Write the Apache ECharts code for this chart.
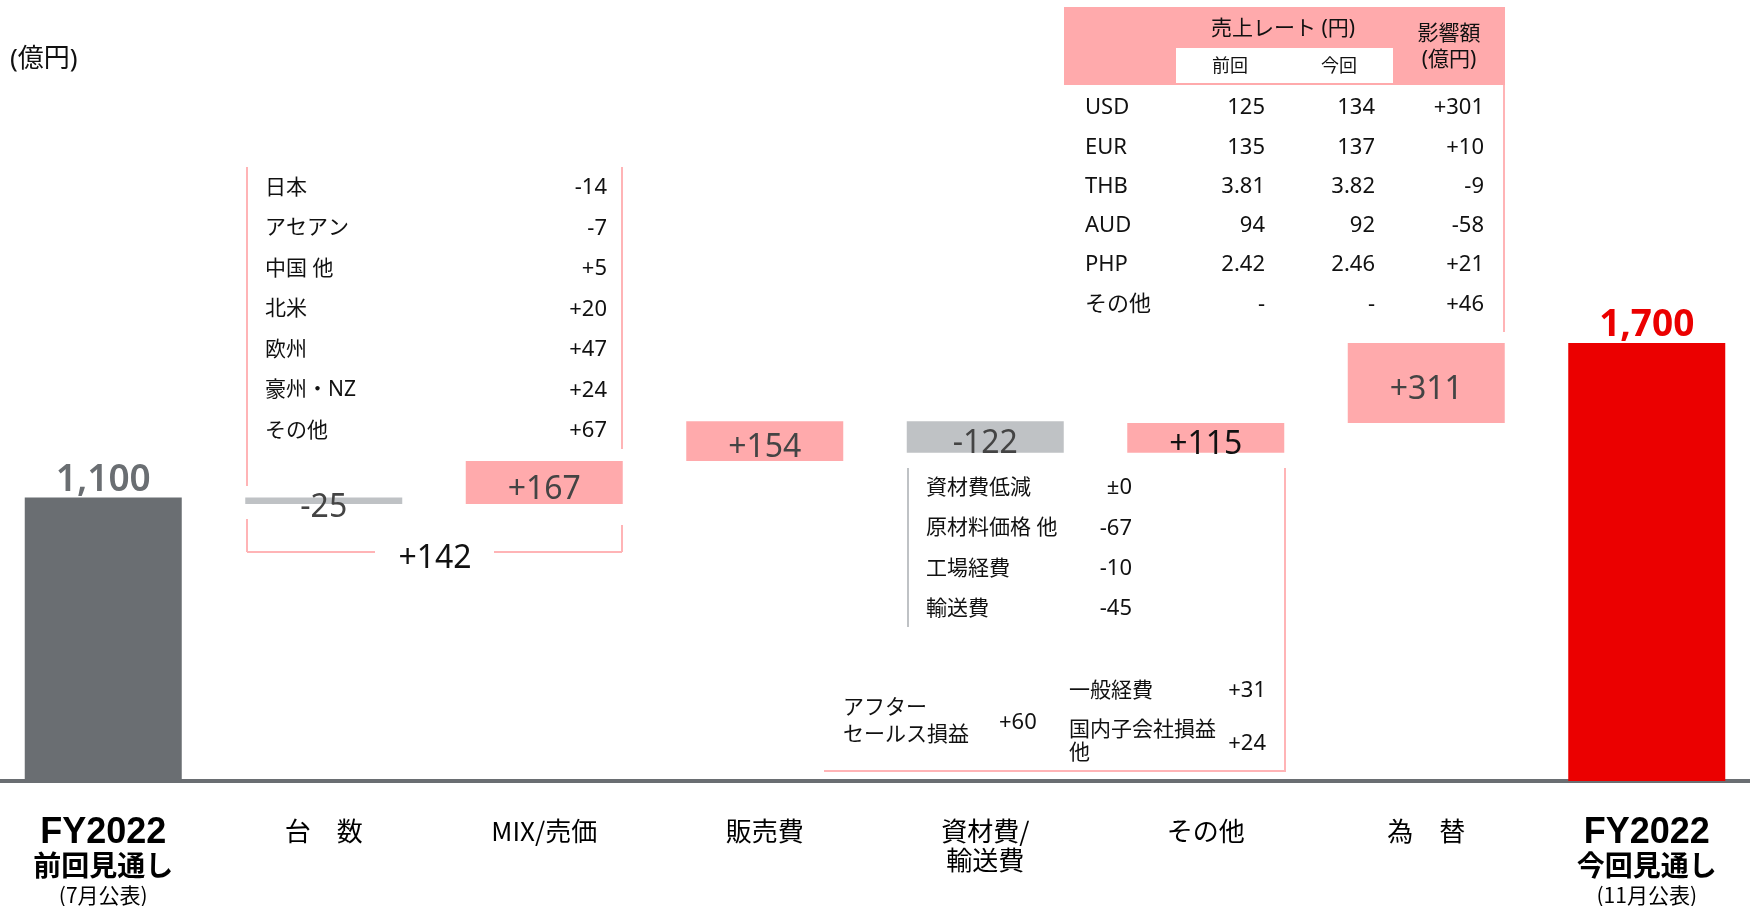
<!DOCTYPE html>
<html>
<head>
<meta charset="utf-8">
<script src="https://cdn.jsdelivr.net/npm/echarts@6/dist/echarts.min.js"></script>
<style>
  html, body { margin: 0; padding: 0; background: #fff; overflow: hidden; }
  /* chart is 14px wider than the page so that the 8 bands line up with the source */
  #chart { width: 1764px; height: 906px; margin-left: -7px; }
</style>
</head>
<body>
<div id="chart"></div>
<script>
// waterfall data (億円)
const categories = ['FY2022\n前回見通し\n(7月公表)', '台　数', 'MIX/売価', '販売費', '資材費/\n輸送費', 'その他', '為　替', 'FY2022\n今回見通し\n(11月公表)'];
const changes = [1100, -25, 167, 154, -122, 115, 311, 1700];
const isTotal = [true, false, false, false, false, false, false, true];

// annotation tables
const regionNames = ['日本', 'アセアン', '中国 他', '北米', '欧州', '豪州・NZ', 'その他'];
const regionValues = ['-14', '-7', '+5', '+20', '+47', '+24', '+67'];
const volumeMixSum = '+142';
const fxCurrencies = ['USD', 'EUR', 'THB', 'AUD', 'PHP', 'その他'];
const fxPrev = ['125', '135', '3.81', '94', '2.42', '-'];
const fxCurr = ['134', '137', '3.82', '92', '2.46', '-'];
const fxImpact = ['+301', '+10', '-9', '-58', '+21', '+46'];
const costNames = ['資材費低減', '原材料価格 他', '工場経費', '輸送費'];
const costValues = ['±0', '-67', '-10', '-45'];
const otherNames = ['一般経費', '国内子会社損益\n他'];
const otherValues = ['+31', '+24'];
const afterSalesValue = '+60';

const PINK = '#ffaaac';
const PINK_LINE = '#ffb4b6';
const LIGHT_GRAY = '#bfc2c5';
const GRAY = '#6a6e72';
const RED = '#eb0000';
const JP = '"Noto Sans", "Noto Sans CJK JP", sans-serif';
const DX = 7; // page x -> chart x

// build the stacked waterfall from the changes
const baseData = [];
const barData = [];
let run = 0;
changes.forEach((d, i) => {
  let color, h;
  if (isTotal[i]) {
    baseData.push(0); h = d; run = d;
    color = i === 0 ? GRAY : RED;
  } else {
    if (d >= 0) { baseData.push(run); h = d; color = PINK; }
    else { baseData.push(run + d); h = -d; color = LIGHT_GRAY; }
    run += d;
  }
  barData.push({
    value: h,
    itemStyle: { color: color },
    label: isTotal[i] ? {
      position: 'top', distance: -1, fontSize: 37,
      color: i === 0 ? GRAY : RED, fontWeight: i === 0 ? 600 : 'bold'
    } : {
      position: 'inside', offset: [0, 7], fontSize: 32, color: d === 115 ? '#111' : '#444'
    }
  });
});

function fmt(i) {
  const d = changes[i];
  if (isTotal[i]) return d.toLocaleString('en-US');
  return d > 0 ? '+' + d : String(d);
}

const g = [];
function txt(x, y, s, o) {
  o = o || {};
  g.push({
    type: 'text', x: x + DX, y: y, silent: true,
    style: {
      text: s, fill: o.color || '#111', font: (o.weight || 'normal') + ' ' + (o.size || 21) + 'px ' + (o.family || JP),
      textAlign: o.align || 'left', textVerticalAlign: 'middle', lineHeight: o.lh
    }
  });
}
function ln(x1, y1, x2, y2, c) {
  g.push({ type: 'line', silent: true, shape: { x1: x1 + DX, y1: y1, x2: x2 + DX, y2: y2 }, style: { stroke: c || PINK_LINE, lineWidth: 2 } });
}
function box(x, y, w, h, c) {
  g.push({ type: 'rect', silent: true, shape: { x: x + DX, y: y, width: w, height: h }, style: { fill: c } });
}

txt(10, 60, '(億円)', { size: 26 });

// volume / mix breakdown
regionNames.forEach((n, i) => {
  txt(265, 188 + 40.5 * i, n, { size: 21 });
  txt(607, 188 + 40.5 * i, regionValues[i], { align: 'right', size: 22 });
});
ln(247, 167, 247, 486); ln(247, 519, 247, 552);
ln(622, 167, 622, 449); ln(622, 525, 622, 552);
ln(247, 552, 375, 552); ln(494, 552, 622, 552);
txt(435, 559, volumeMixSum, { size: 32, align: 'center' });

// fx table
box(1064, 7, 441, 78, PINK);
box(1176, 48, 217, 35, '#fff');
txt(1283, 29, '売上レート (円)', { align: 'center' });
txt(1230, 67, '前回', { align: 'center', size: 18 });
txt(1339, 67, '今回', { align: 'center', size: 18 });
txt(1449, 34, '影響額', { align: 'center' });
txt(1449, 60, '(億円)', { align: 'center' });
ln(1504, 85, 1504, 332);
fxCurrencies.forEach((c, i) => {
  const y = 108 + 39.3 * i;
  txt(1085, y, c, { size: 22 });
  txt(1265, y, fxPrev[i], { size: 22, align: 'right' });
  txt(1375, y, fxCurr[i], { size: 22, align: 'right' });
  txt(1484, y, fxImpact[i], { size: 22, align: 'right' });
});

// cost breakdown
ln(908, 468, 908, 627, LIGHT_GRAY);
costNames.forEach((n, i) => {
  txt(926, 488 + 40.3 * i, n);
  txt(1132, 488 + 40.3 * i, costValues[i], { align: 'right', size: 22 });
});

// other breakdown
ln(1285, 468, 1285, 772); ln(824, 771, 1285, 771);
txt(843, 722, 'アフター\nセールス損益', { lh: 27 });
txt(999, 723, afterSalesValue, { size: 22 });
txt(1069, 691, otherNames[0]);
txt(1069, 742, otherNames[1], { lh: 23 });
txt(1266, 691, otherValues[0], { align: 'right', size: 22 });
txt(1266, 744, otherValues[1], { align: 'right', size: 22 });

const chart = echarts.init(document.getElementById('chart'));
chart.setOption({
  animation: false,
  grid: { left: 0, right: 0, top: 8, bottom: 123 },
  xAxis: {
    type: 'category',
    data: categories,
    offset: 2,
    axisTick: { show: false },
    axisLine: { lineStyle: { color: GRAY, width: 4 } },
    axisLabel: {
      interval: 0,
      margin: 34,
      verticalAlign: 'top',
      formatter: (v, i) => {
        const p = v.split('\n');
        if (isTotal[i]) return '{a|' + p[0] + '}\n{b|' + p[1] + '}\n{c|' + p[2] + '}';
        return p.map(s => '{n|' + s + '}').join('\n');
      },
      rich: {
        a: { fontSize: 36, fontWeight: 'bold', lineHeight: 32, color: '#000', fontFamily: '"Liberation Sans", sans-serif' },
        b: { fontSize: 28, fontWeight: 'bold', lineHeight: 33, color: '#000', fontFamily: '"Noto Sans CJK JP", sans-serif' },
        c: { fontSize: 21, lineHeight: 27, color: '#000', fontFamily: '"Noto Sans CJK JP", sans-serif' },
        n: { fontSize: 26, lineHeight: 29, color: '#000', fontFamily: '"Noto Sans CJK JP", sans-serif' }
      }
    }
  },
  yAxis: {
    type: 'value', min: 0, max: 3000, show: false,
    splitLine: { show: false }
  },
  series: [
    {
      type: 'bar', stack: 'w', silent: true, barWidth: 157,
      itemStyle: { color: 'transparent' },
      data: baseData
    },
    {
      type: 'bar', stack: 'w', silent: true, barWidth: 157,
      label: {
        show: true, fontFamily: '"Noto Sans", sans-serif',
        formatter: p => fmt(p.dataIndex)
      },
      data: barData
    }
  ],
  graphic: g
});
</script>
</body>
</html>
